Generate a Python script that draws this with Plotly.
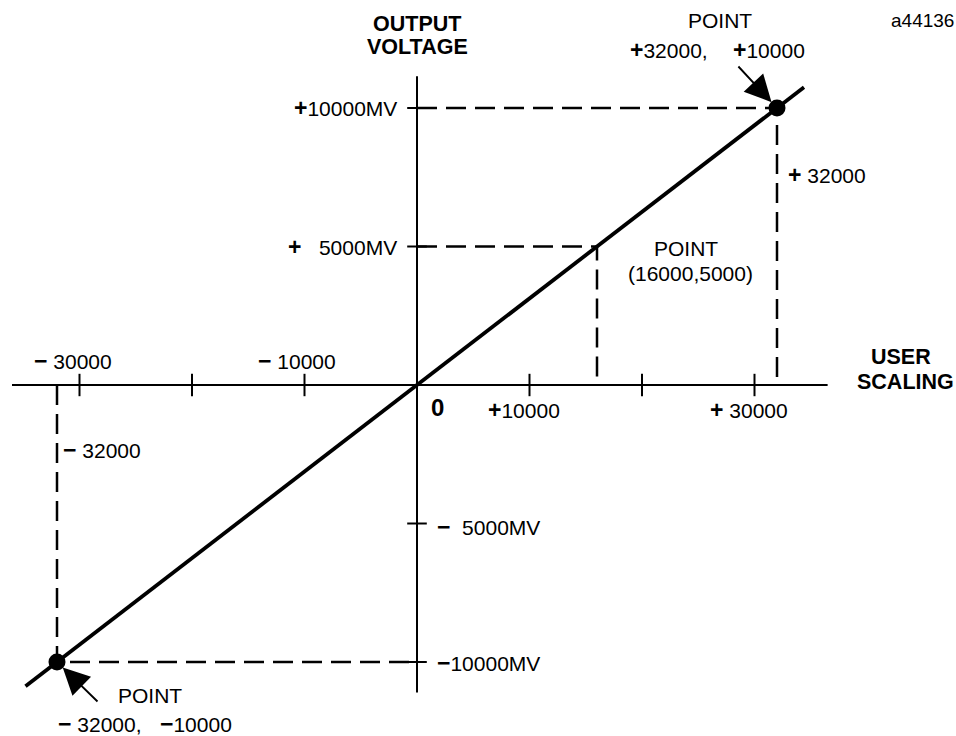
import plotly.graph_objects as go

# ---- data ----
LINE_X = [-34800, 34400]
LINE_Y = [-10875, 10750]
POINT_X = [-32000, 32000]
POINT_Y = [-10000, 10000]
AXIS_X_EXTENT = [-36000, 36500]
AXIS_Y_EXTENT = [-11100, 11150]
X_TICKS = [-30000, -20000, -10000, 10000, 20000, 30000]
Y_TICKS = [-10000, -5000, 5000, 10000]
MID_POINT = (16000, 5000)

# ---- pixel <-> data mapping (layout only) ----
W, H = 956, 736
OX, OY = 417, 385
KX = 10000 / 112.5
KY = 10000 / 277.0
X_RANGE = [-OX * KX, (W - OX) * KX]
Y_RANGE = [-(H - OY) * KY, OY * KY]


def dx(px):
    return (px - OX) * KX


def dy(py):
    return (OY - py) * KY


FONT = "Liberation Sans, Arial, Helvetica, sans-serif"
BLACK = "#000000"
FS = 21

fig = go.Figure()

# dashed guide lines
gx, gy = [], []
for (px_, py_) in [(POINT_X[1], POINT_Y[1]), MID_POINT]:
    gx += [0, px_, px_, None]
    gy += [py_, py_, 0, None]
gx += [POINT_X[0], POINT_X[0], 0]
gy += [0, POINT_Y[0], POINT_Y[0]]
fig.add_trace(go.Scatter(x=gx, y=gy, mode="lines",
                         line=dict(color=BLACK, width=2.5, dash="20px,9px"),
                         hoverinfo="skip"))

# axes
fig.add_trace(go.Scatter(x=AXIS_X_EXTENT, y=[0, 0], mode="lines",
                         line=dict(color=BLACK, width=2), hoverinfo="skip"))
fig.add_trace(go.Scatter(x=[0, 0], y=AXIS_Y_EXTENT, mode="lines",
                         line=dict(color=BLACK, width=2), hoverinfo="skip"))
# ticks
fig.add_trace(go.Scatter(x=X_TICKS, y=[0] * len(X_TICKS), mode="markers",
                         marker=dict(symbol="line-ns", size=16,
                                     line=dict(color=BLACK, width=2)),
                         hoverinfo="skip"))
fig.add_trace(go.Scatter(x=[0] * len(Y_TICKS), y=Y_TICKS, mode="markers",
                         marker=dict(symbol="line-ew", size=14,
                                     line=dict(color=BLACK, width=2)),
                         hoverinfo="skip"))

# transfer line
fig.add_trace(go.Scatter(x=LINE_X, y=LINE_Y, mode="lines",
                         line=dict(color=BLACK, width=3.8), hoverinfo="skip"))
# end points
fig.add_trace(go.Scatter(x=POINT_X, y=POINT_Y, mode="markers",
                         marker=dict(color=BLACK, size=17), hoverinfo="skip"))

NB = "\u00a0"
annos = []


def txt(text, px, py, anchor="center", size=FS, bold=False):
    if bold:
        text = "<b>" + text + "</b>"
    annos.append(dict(text=text, x=dx(px), y=dy(py), xref="x", yref="y",
                      xanchor=anchor, yanchor="middle", showarrow=False,
                      font=dict(family=FONT, size=size, color=BLACK)))


P = "<span style='font-size:23px'><b>+</b></span>"
M = "<span style='font-size:23px'><b>\u2212</b></span>"

txt("OUTPUT", 417, 24, bold=True, size=21.5)
txt("VOLTAGE", 417, 47, bold=True, size=21.5)
txt("USER", 901, 357, bold=True, size=21.5)
txt("SCALING", 905, 382, bold=True, size=21.5)
txt("a44136", 922, 20, size=19)

txt("POINT", 720, 20)
txt(P + "32000,", 628, 50, anchor="left")
txt(P + "10000", 731, 50, anchor="left")
txt(P + NB + "32000", 786, 175, anchor="left")

txt("POINT", 686, 248)
txt("(16000,5000)", 690, 273)

txt(P + "10000MV", 399, 108, anchor="right")
txt(P + NB * 3 + "5000MV", 399, 247, anchor="right")

txt(M + NB + "30000", 73, 361)
txt(M + NB + "10000", 297, 361)
txt("0", 437, 407, bold=True, size=24)
txt(P + "10000", 524, 410)
txt(P + NB + "30000", 749, 410)

txt(M + NB + "32000", 61, 450, anchor="left")
txt(M + NB * 2 + "5000MV", 435, 527, anchor="left")
txt(M + "10000MV", 435, 663, anchor="left")

txt("POINT", 150, 695)
txt(M + NB + "32000,", 56, 724, anchor="left")
txt(M + "10000", 158, 724, anchor="left")

# arrows pointing to end points
annos.append(dict(x=POINT_X[1], y=POINT_Y[1], xref="x", yref="y", text="",
                  showarrow=True, ax=-40, ay=-43, arrowhead=2, arrowsize=2.8,
                  arrowwidth=1.9, arrowcolor=BLACK, standoff=8))
annos.append(dict(x=POINT_X[0], y=POINT_Y[0], xref="x", yref="y", text="",
                  showarrow=True, ax=42, ay=41, arrowhead=2, arrowsize=2.8,
                  arrowwidth=1.9, arrowcolor=BLACK, standoff=8))

fig.update_layout(
    width=W, height=H,
    margin=dict(l=0, r=0, t=0, b=0),
    paper_bgcolor="white", plot_bgcolor="white",
    showlegend=False,
    xaxis=dict(range=X_RANGE, visible=False, fixedrange=True),
    yaxis=dict(range=Y_RANGE, visible=False, fixedrange=True),
    annotations=annos,
    font=dict(family=FONT, color=BLACK),
)

fig.write_html(
    "out.html",
    config={"displayModeBar": False},
    post_script="document.body.style.margin='0';document.body.style.padding='0';",
)
